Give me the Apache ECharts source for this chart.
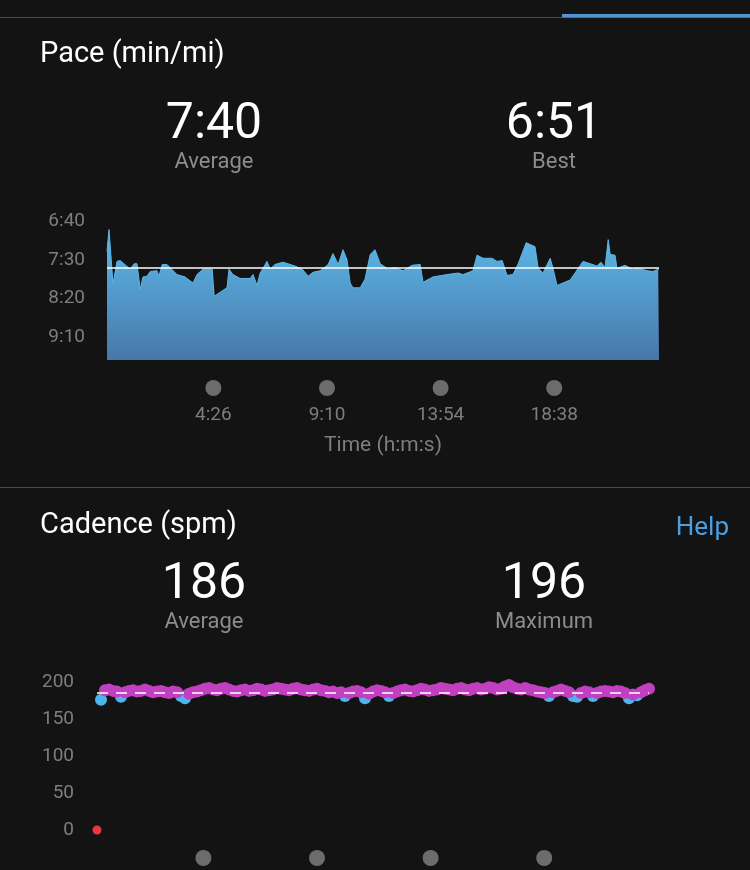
<!DOCTYPE html>
<html>
<head>
<meta charset="utf-8">
<script src="https://cdn.jsdelivr.net/npm/echarts@6/dist/echarts.min.js"></script>
<style>
  html, body { margin: 0; padding: 0; background: #131313; }
  #chart { width: 750px; height: 870px; }
</style>
</head>
<body>
<div id="chart"></div>
<script>
// ---- Pace (seconds per mile) vs elapsed time (seconds) ----
const paceTimes = [0,5,15,25,33,58,68,75,83,90,100,108,125,130,138,150,175,195,215,225,240,263,268,288,300,305,315,333,358,365,375,383,400,408,420,440,470,488,503,515,533,553,565,578,590,600,608,615,633,645,658,670,683,703,720,740,763,783,790,815,850,878,890,915,925,940,963,975,988,1000,1015,1028,1048,1070,1078,1090,1108,1115,1125,1158,1170,1190,1208,1225,1235,1245,1253,1258,1270,1275,1295,1313,1328,1350,1365,1370,1378,1380];
const paceValues = [439,411,481,452,451,462,455,455,488,472,471,465,464,471,456,456,469,472,480,469,462,462,497,490,486,462,469,474,474,469,483,467,452,462,456,453,458,462,471,466,464,456,442,456,437,450,480,486,486,475,443,437,455,462,460,464,457,456,479,472,469,467,469,464,444,448,448,452,451,470,469,455,428,433,461,467,448,461,483,476,467,452,455,458,453,460,424,443,444,461,457,462,461,464,465,467,462,462];
const paceAverage = 460;   // 7:40
const paceBest = 411;      // 6:51
const paceTicks = [400, 450, 500, 550];

// ---- Cadence (spm), one sample every 10 s ----
const cadenceStep = 10;
const cadenceValues = [0,176,189,190,188,187,180,186,188,189,187,188,190,188,186,187,188,186,185,187,186,181,178,184,186,187,189,191,192,190,189,191,192,190,188,187,189,190,188,189,191,190,188,189,190,192,191,190,189,191,192,190,189,188,190,191,189,188,186,187,185,186,181,185,187,188,186,178,184,187,189,188,186,181,185,187,189,190,188,187,189,191,190,188,189,190,192,191,190,189,191,192,190,189,191,192,190,191,193,192,190,191,194,196,193,191,190,192,190,189,187,186,185,181,186,188,190,188,186,181,180,185,187,186,181,185,187,188,187,186,188,187,185,178,183,182,186,189,191];
const cadenceAverage = 186;
const cadenceMax = 196;
const cadenceTicks = [0, 50, 100, 150, 200];

// ---- shared time axis ticks (seconds) ----
const timeTicks = [266, 550, 834, 1118];
const timeMax = 1380;

function mmss(v) {
  const m = Math.floor(v / 60), s = Math.round(v - m * 60);
  return m + ':' + (s < 10 ? '0' : '') + s;
}

const paceData = paceTimes.map((t, i) => [t, paceValues[i]]);
const cadAll = cadenceValues.map((v, i) => [i * cadenceStep, v]);
const cadPurple = cadAll.filter(d => d[1] >= 183);
const cadBlue = cadAll.filter(d => d[1] > 0 && d[1] < 183);
const cadRed = cadAll.filter(d => d[1] === 0);

const FONT = 'Roboto';
const GRAY = '#7e7e7e';

const timeLabel = {
  customValues: timeTicks,
  margin: 20,
  formatter: v => '{dot| }\n{t|' + mmss(v) + '}',
  rich: {
    dot: { width: 16, height: 16, lineHeight: 16, borderRadius: 8, backgroundColor: '#6c6c6c' },
    t: { fontSize: 19, lineHeight: 38, color: GRAY, fontFamily: FONT }
  }
};

const chart = echarts.init(document.getElementById('chart'), null, { renderer: 'canvas' });
chart.setOption({
  backgroundColor: '#131313',
  animation: false,
  textStyle: { fontFamily: FONT },
  grid: [
    { left: 107, width: 552, top: 221, height: 139, outerBoundsMode: 'none', containLabel: false },
    { left: 97, width: 552, top: 682, height: 148, outerBoundsMode: 'none', containLabel: false }
  ],
  xAxis: [
    {
      type: 'value', gridIndex: 0, min: 0, max: timeMax,
      axisLine: { show: false }, axisTick: { show: false }, splitLine: { show: false },
      axisLabel: timeLabel,
      name: 'Time (h:m:s)', nameLocation: 'middle', nameGap: 75,
      nameTextStyle: { color: GRAY, fontSize: 21, fontFamily: FONT }
    },
    {
      type: 'value', gridIndex: 1, min: 0, max: timeMax,
      axisLine: { show: false }, axisTick: { show: false }, splitLine: { show: false },
      axisLabel: timeLabel
    }
  ],
  yAxis: [
    {
      type: 'value', gridIndex: 0, inverse: true, min: 400, max: 579, interval: 50,
      axisLine: { show: false }, axisTick: { show: false }, splitLine: { show: false },
      axisLabel: {
        margin: 22, color: GRAY, fontSize: 19, fontFamily: FONT,
        formatter: v => paceTicks.indexOf(v) >= 0 ? mmss(v) : ''
      }
    },
    {
      type: 'value', gridIndex: 1, min: 0, max: 200, interval: 50,
      axisLine: { show: false }, axisTick: { show: false }, splitLine: { show: false },
      axisLabel: {
        margin: 23, color: GRAY, fontSize: 19, fontFamily: FONT,
        formatter: v => cadenceTicks.indexOf(v) >= 0 ? String(v) : ''
      }
    }
  ],
  series: [
    {
      type: 'line', xAxisIndex: 0, yAxisIndex: 0, data: paceData,
      showSymbol: false, symbol: 'none',
      lineStyle: { width: 1, color: '#5cb7e8' },
      areaStyle: {
        origin: 'end', opacity: 1,
        color: { type: 'linear', x: 0, y: 0, x2: 0, y2: 1,
          colorStops: [{ offset: 0, color: '#5dbaea' }, { offset: 1, color: '#4877aa' }] }
      },
      markLine: {
        silent: true, symbol: 'none', label: { show: false },
        lineStyle: { color: '#ffffff', width: 1.5, type: 'solid' },
        data: [{ yAxis: paceAverage }]
      }
    },
    {
      type: 'scatter', xAxisIndex: 1, yAxisIndex: 1, data: cadBlue,
      symbolSize: 12, itemStyle: { color: '#4cb6ec', opacity: 1 }, clip: false
    },
    {
      type: 'scatter', xAxisIndex: 1, yAxisIndex: 1, data: cadPurple,
      symbolSize: 12, itemStyle: { color: '#c23fc2', opacity: 1 }, clip: false
    },
    {
      type: 'scatter', xAxisIndex: 1, yAxisIndex: 1, data: cadRed,
      symbolSize: 9, itemStyle: { color: '#e8383c', opacity: 1 }, clip: false,
      markLine: {
        silent: true, symbol: 'none', label: { show: false },
        lineStyle: { color: '#ffffff', width: 1.5, type: [11, 8] },
        data: [{ yAxis: cadenceAverage }]
      }
    }
  ],
  graphic: [
    { type: 'line', shape: { x1: 0, y1: 17.5, x2: 750, y2: 17.5 }, style: { stroke: '#4a4a4a', lineWidth: 1 } },
    { type: 'rect', shape: { x: 562, y: 14, width: 188, height: 3.5 }, style: { fill: '#4f95d6' } },
    { type: 'line', shape: { x1: 0, y1: 487.5, x2: 750, y2: 487.5 }, style: { stroke: '#4a4a4a', lineWidth: 1 } },
    { type: 'text', x: 40, y: 55, style: { text: 'Pace (min/mi)', fill: '#ffffff', font: '29px Roboto', textAlign: 'left', textVerticalAlign: 'middle' } },
    { type: 'text', x: 214, y: 125, style: { text: mmss(paceAverage), fill: '#ffffff', font: '50px Roboto', textAlign: 'center', textVerticalAlign: 'middle' } },
    { type: 'text', x: 214, y: 162, style: { text: 'Average', fill: '#8c8c8c', font: '22px Roboto', textAlign: 'center', textVerticalAlign: 'middle' } },
    { type: 'text', x: 554, y: 125, style: { text: mmss(paceBest), fill: '#ffffff', font: '50px Roboto', textAlign: 'center', textVerticalAlign: 'middle' } },
    { type: 'text', x: 554, y: 162, style: { text: 'Best', fill: '#8c8c8c', font: '22px Roboto', textAlign: 'center', textVerticalAlign: 'middle' } },
    { type: 'text', x: 40, y: 526, style: { text: 'Cadence (spm)', fill: '#ffffff', font: '29px Roboto', textAlign: 'left', textVerticalAlign: 'middle' } },
    { type: 'text', x: 729, y: 528, style: { text: 'Help', fill: '#4a9ee2', font: '26px Roboto', textAlign: 'right', textVerticalAlign: 'middle' } },
    { type: 'text', x: 204, y: 585, style: { text: String(cadenceAverage), fill: '#ffffff', font: '50px Roboto', textAlign: 'center', textVerticalAlign: 'middle' } },
    { type: 'text', x: 204, y: 622, style: { text: 'Average', fill: '#8c8c8c', font: '22px Roboto', textAlign: 'center', textVerticalAlign: 'middle' } },
    { type: 'text', x: 544, y: 585, style: { text: String(cadenceMax), fill: '#ffffff', font: '50px Roboto', textAlign: 'center', textVerticalAlign: 'middle' } },
    { type: 'text', x: 544, y: 622, style: { text: 'Maximum', fill: '#8c8c8c', font: '22px Roboto', textAlign: 'center', textVerticalAlign: 'middle' } }
  ]
});
</script>
</body>
</html>
